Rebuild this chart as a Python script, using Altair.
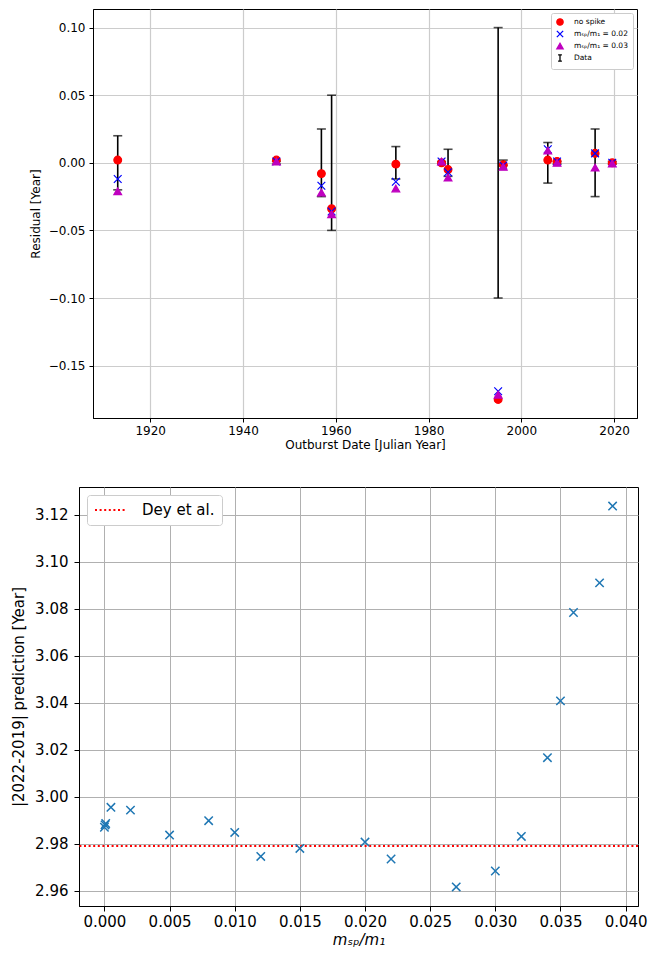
import altair as alt
import pandas as pd

# ---------------- top panel data ----------------
years = [1913.0, 1947.2, 1956.9, 1959.1, 1972.95, 1982.8, 1984.2, 1995.0, 1996.1, 2005.7, 2007.7, 2015.9, 2019.6]
no_spike = [0.002, 0.002, -0.008, -0.034, -0.001, 0.000, -0.005, -0.175, -0.0015, 0.002, 0.001, 0.007, 0.000]
spike_002 = [-0.012, 0.001, -0.017, -0.036, -0.014, 0.001, -0.007, -0.169, -0.002, 0.010, 0.001, 0.007, 0.000]
spike_003 = [-0.021, 0.001, -0.022, -0.038, -0.019, 0.001, -0.011, -0.1715, -0.003, 0.009, 0.000, -0.0035, -0.0005]
data_err = [0.020, 0.001, 0.025, 0.050, 0.012, 0.001, 0.010, 0.100, 0.002, 0.015, 0.001, 0.025, 0.001]

series_names = ["no spike", "mₛₚ/m₁ = 0.02", "mₛₚ/m₁ = 0.03", "Data"]
series_colors = ["#ff0000", "#0000ff", "#bf00bf", "#000000"]
series_shapes = ["circle", "M-1,-1L1,1M-1,1L1,-1", "triangle-up", "M-0.6,-1H0.6M0,-1V1M-0.6,1H0.6"]

top_x_ticks = [1920, 1940, 1960, 1980, 2000, 2020]
top_y_ticks = [-0.15, -0.10, -0.05, 0.00, 0.05, 0.10]

# ---------------- bottom panel data ----------------
mass_ratio = [0.0, 0.00005, 0.0001, 0.0005, 0.002, 0.005, 0.008, 0.010, 0.012, 0.015,
              0.020, 0.022, 0.027, 0.030, 0.032, 0.034, 0.035, 0.036, 0.038, 0.039]
prediction = [2.9870, 2.9880, 2.9886, 2.9955, 2.9943, 2.9837, 2.9898, 2.9848, 2.9746, 2.9780,
              2.9807, 2.9735, 2.9616, 2.9684, 2.9831, 3.0166, 3.0408, 3.0784, 3.0910, 3.1237]
dey_value = 2.979
dey_label = "Dey et al."

bottom_x_ticks = [round(i * 0.005, 3) for i in range(9)]
bottom_y_ticks = [round(2.96 + i * 0.02, 2) for i in range(9)]

# ---------------- top panel ----------------
pts_rows = []
for name, vals in zip(series_names[:3], [no_spike, spike_002, spike_003]):
    for yr, v in zip(years, vals):
        pts_rows.append({"year": yr, "value": v, "series": name})
pts_df = pd.DataFrame(pts_rows)
err_df = pd.DataFrame({"year": years,
                       "lo": [-e for e in data_err],
                       "hi": data_err})

xs_top = alt.Scale(domain=[1907.67, 2024.93], nice=False, zero=False)
ys_top = alt.Scale(domain=[-0.18875, 0.11375], nice=False, zero=False)

def top_x(field):
    return alt.X(field, type="quantitative", scale=xs_top,
                 axis=alt.Axis(values=top_x_ticks, format="d", title="Outburst Date [Julian Year]",
                               labelFontSize=12, titleFontSize=12, tickSize=4, labelPadding=3,
                               titlePadding=3, gridColor="#cccccc", gridWidth=1.2,
                               labelOverlap=False, labelFlush=False))

def top_y(field):
    return alt.Y(field, type="quantitative", scale=ys_top,
                 axis=alt.Axis(values=top_y_ticks, format=".2f", title="Residual [Year]",
                               labelFontSize=12, titleFontSize=12, tickSize=4, labelPadding=4,
                               titlePadding=6, gridColor="#cccccc", gridWidth=1.2,
                               labelOverlap=False, labelFlush=False))

err_rule = alt.Chart(err_df).mark_rule(color="black", strokeWidth=1.6).encode(
    x=top_x("year"), y=top_y("lo"), y2="hi:Q")
cap_lo = alt.Chart(err_df).mark_tick(orient="horizontal", color="black", size=9, thickness=1.6).encode(
    x=top_x("year"), y=top_y("lo"))
cap_hi = alt.Chart(err_df).mark_tick(orient="horizontal", color="black", size=9, thickness=1.6).encode(
    x=top_x("year"), y=top_y("hi"))

leg_top = alt.Legend(title=None, orient="top-right", offset=4, padding=5, labelFontSize=7.5,
                     symbolSize=40, symbolStrokeWidth=1.3, rowPadding=0, labelOffset=10,
                     strokeColor="#cccccc", fillColor="white", cornerRadius=2, labelLimit=200)

points = alt.Chart(pts_df).mark_point(filled=True, size=60, strokeWidth=1.2, opacity=1).encode(
    x=top_x("year"),
    y=top_y("value"),
    fill=alt.Fill("series:N", scale=alt.Scale(domain=series_names, range=series_colors), legend=leg_top),
    stroke=alt.Stroke("series:N", scale=alt.Scale(domain=series_names, range=series_colors), legend=leg_top),
    shape=alt.Shape("series:N", scale=alt.Scale(domain=series_names, range=series_shapes), legend=leg_top),
)

top = alt.layer(err_rule, cap_lo, cap_hi, points).properties(width=544, height=409)

# ---------------- bottom panel ----------------
pred_df = pd.DataFrame({"ratio": mass_ratio, "pred": prediction})
dey_df = pd.DataFrame({"dey": [dey_value], "label": [dey_label]})

xs_bot = alt.Scale(domain=[-0.00195, 0.04095], nice=False, zero=False)
ys_bot = alt.Scale(domain=[2.9535, 3.1318], nice=False, zero=False)

def bot_x(field):
    return alt.X(field, type="quantitative", scale=xs_bot,
                 axis=alt.Axis(values=bottom_x_ticks, format=".3f", title="mₛₚ/m₁",
                               titleFontStyle="italic", labelFontSize=15, titleFontSize=15,
                               tickSize=5, labelPadding=3, titlePadding=3, gridColor="#b0b0b0",
                               gridWidth=1, labelOverlap=False, labelFlush=False))

def bot_y(field):
    return alt.Y(field, type="quantitative", scale=ys_bot,
                 axis=alt.Axis(values=bottom_y_ticks, format=".2f", title="|2022-2019| prediction [Year]",
                               labelFontSize=15, titleFontSize=15, tickSize=5, labelPadding=6,
                               titlePadding=8, gridColor="#b0b0b0", gridWidth=1,
                               labelOverlap=False, labelFlush=False))

dey_rule = alt.Chart(dey_df).mark_rule(strokeDash=[2, 2.6], strokeWidth=2).encode(
    y=bot_y("dey"),
    color=alt.Color("label:N", scale=alt.Scale(domain=[dey_label], range=["#ff0000"]),
                    legend=alt.Legend(title=None, orient="top-left", offset=8, padding=7,
                                      labelFontSize=15, symbolType="stroke", symbolSize=1024,
                                      symbolStrokeWidth=2, symbolDash=[2, 2.6], clipHeight=16,
                                      strokeColor="#cccccc", fillColor="white", cornerRadius=3,
                                      labelOffset=14)),
)

pts_bot = alt.Chart(pred_df).mark_point(shape="M-1,-1L1,1M-1,1L1,-1", size=70, strokeWidth=1.5,
                                        color="#1f77b4", filled=False, opacity=1).encode(
    x=bot_x("ratio"), y=bot_y("pred"))

bottom = alt.layer(dey_rule, pts_bot).properties(width=559, height=419)

# ---------------- layout: blank spacers shift each panel to its own left edge ----------------
def spacer(w):
    return alt.Chart(pd.DataFrame({"a": [0]})).mark_rule(color="white", strokeWidth=1).encode(
        x=alt.value(0), x2=alt.value(w), y=alt.value(0)).properties(
        width=w, height=1, view=alt.ViewBackground(strokeOpacity=0))

res_s = dict(x="independent", y="independent", fill="independent", stroke="independent",
             shape="independent", color="independent")
res_l = dict(fill="independent", stroke="independent", shape="independent", color="independent")

top_row = alt.hconcat(spacer(18), top, spacing=0).resolve_scale(**res_s).resolve_legend(**res_l)
bottom_row = alt.hconcat(spacer(1), bottom, spacing=0).resolve_scale(**res_s).resolve_legend(**res_l)

chart = alt.vconcat(top_row, bottom_row, spacing=35).resolve_scale(**res_s).resolve_legend(**res_l).properties(
    padding={"left": 0, "top": 0, "right": 0, "bottom": 0}).configure(
    font="DejaVu Sans").configure_view(stroke="black", strokeWidth=1).configure_axis(
    domainColor="black", tickColor="black", labelColor="black", titleColor="black",
    titleFontWeight="normal")

chart.save("out.html", embed_options={"renderer": "svg", "actions": False})
